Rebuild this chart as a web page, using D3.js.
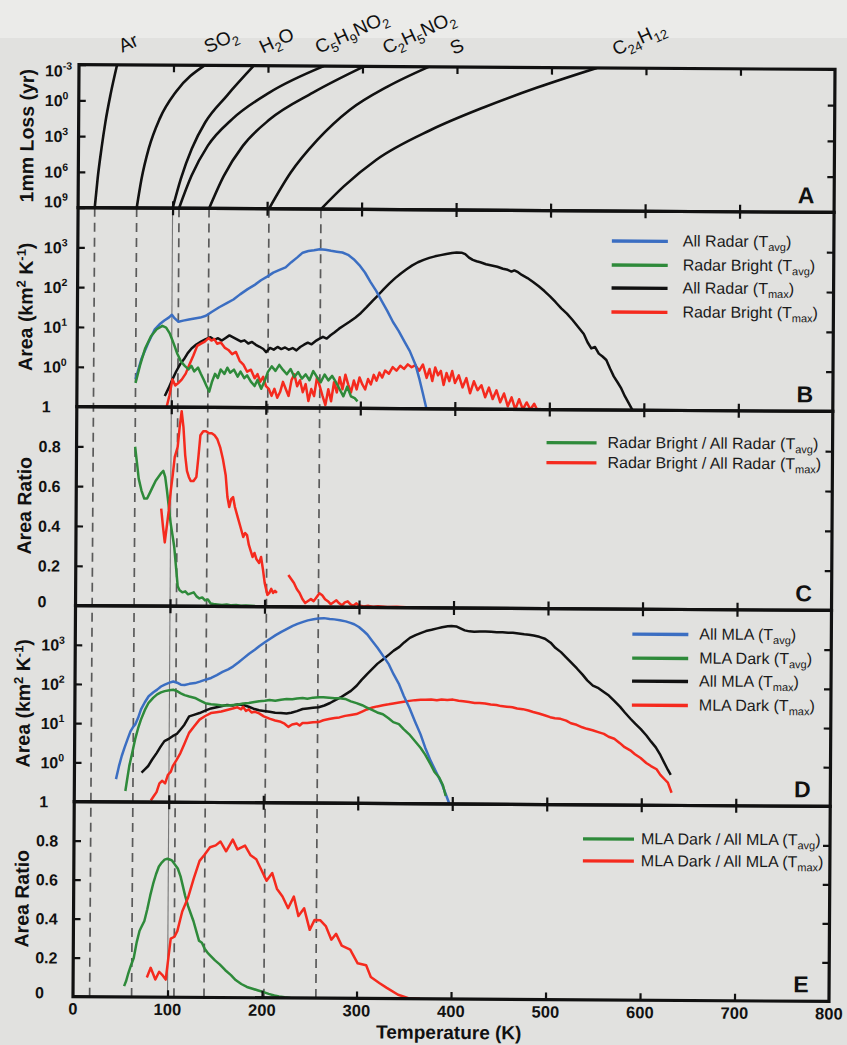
<!DOCTYPE html>
<html>
<head>
<meta charset="utf-8">
<script src="https://cdn.jsdelivr.net/npm/d3@7"></script>
<style>
  body { margin: 0; background: #e2e2e0; }
  svg { display: block; font-family: "Liberation Sans", Arial, Helvetica, sans-serif; }
</style>
</head>
<body>
<svg id="chart" width="847" height="1045"></svg>
<script>
// ---------- data ----------
var tempTicks = [0, 100, 200, 300, 400, 500, 600, 700, 800];

// panel A : time to lose 1 mm (yr) vs temperature (K)
var species = ["Ar", "SO2", "H2O", "C5H9NO2", "C2H5NO2", "S", "C24H12"];
var lossAr = [[17.6, 1e9], [20.5, 3.4e6], [24.4, 1e4], [28.4, 59], [33.5, 0.33], [40.3, 1e-3]];
var lossSO2 = [[62, 1e9], [67, 3.4e6], [74.4, 1e4], [85.8, 31], [102.8, 0.17], [132.9, 1e-3]];
var lossH2O = [[100, 1e9], [108.5, 3.4e6], [119.9, 1e4], [134, 59], [156.8, 0.33], [185, 1e-3]];
var lossC5H9NO2 = [[106.8, 1e9], [119.9, 1.8e6], [136.9, 5.4e3], [162.5, 31], [202, 0.17], [259, 1e-3]];
var lossC2H5NO2 = [[138.6, 1e9], [154, 1.8e6], [173.9, 5.4e3], [202.3, 31], [247.7, 0.17], [301.7, 1e-3]];
var lossS = [[202, 1e9], [224.6, 9.3e5], [253, 1.5e3], [287, 4.4], [326.6, 0.048], [370, 1e-3]];
var lossC24H12 = [[257, 1e9], [281, 1.2e7], [315, 7e4], [372, 210], [429, 2.3], [485, 0.048], [548, 1e-3]];
var lossTicks = [1e-3, 1, 1e3, 1e6, 1e9];
var lossTickExp = ["-3", "0", "3", "6", "9"];

// panels B and D : area per kelvin (km2 K-1)
var areaTicks = [0.1, 1, 10, 100, 1000];
var areaTickBase = ["1", "10", "10", "10", "10"];
var areaTickExp = ["", "0", "1", "2", "3"];

var radarAllAvg = [[62, 0.5], [68, 1.6], [75, 4], [82, 9], [87, 12], [92, 15], [97, 18], [100, 21], [103, 17],
  [107, 14], [112, 15], [118, 16], [124, 17], [130, 18], [136, 20], [142, 25], [150, 33], [158, 42], [165, 52],
  [172, 70], [180, 95], [187, 120], [194, 160], [201, 200], [207, 250], [213, 290], [220, 340], [226, 460],
  [232, 600], [238, 800], [244, 880], [250, 920], [256, 980], [262, 950], [268, 900], [274, 860], [280, 820],
  [286, 720], [292, 560], [298, 400], [304, 260], [310, 150], [316, 90], [322, 50], [328, 28], [334, 15],
  [340, 9], [346, 5], [352, 2.8], [358, 1.3], [362, 0.6], [366, 0.25], [370, 0.1]];
var radarBrightAvg = [[62, 0.4], [67, 1.2], [72, 3], [78, 6], [84, 9], [90, 11], [94, 10], [98, 7], [102, 4],
  [106, 2.2], [110, 1.4], [114, 1.1], [118, 0.9], [121, 1.1], [124, 0.8], [128, 1.0], [131, 0.7], [134, 0.5],
  [137, 0.35], [140, 0.25], [143, 0.45], [146, 0.7], [149, 0.55], [152, 0.9], [156, 0.7], [159, 1.0], [162, 0.75],
  [166, 0.9], [170, 0.6], [173, 0.8], [177, 0.55], [180, 0.65], [184, 0.45], [188, 0.35], [191, 0.5], [195, 0.3],
  [199, 0.5], [202, 0.8], [206, 1.1], [210, 0.85], [214, 1.2], [218, 0.9], [222, 0.7], [226, 0.95], [230, 0.6],
  [234, 0.8], [238, 0.55], [242, 0.7], [246, 0.5], [250, 0.85], [254, 0.6], [258, 0.45], [262, 0.7], [266, 0.5],
  [270, 0.65], [274, 0.45], [278, 0.3], [282, 0.2], [286, 0.35], [290, 0.2], [294, 0.18], [297, 0.15]];
var radarAllMax = [[93, 0.19], [97, 0.3], [101, 0.5], [105, 0.8], [109, 1.2], [113, 1.6], [117, 2.3], [121, 3],
  [126, 3.8], [131, 4.5], [136, 5.2], [141, 5.8], [145, 5.0], [149, 5.5], [153, 4.8], [157, 5.6], [161, 6.5],
  [165, 5.8], [169, 5.2], [173, 4.6], [177, 4.9], [181, 4.1], [185, 4.5], [189, 3.8], [193, 3.4], [197, 3.0],
  [200, 2.5], [204, 3.2], [208, 2.9], [212, 3.4], [216, 3.0], [220, 3.3], [224, 2.9], [228, 3.2], [232, 2.8],
  [236, 3.4], [240, 3.9], [244, 4.4], [248, 4.0], [252, 4.8], [256, 5.5], [260, 6.2], [264, 5.6], [268, 6.8],
  [272, 8], [277, 10], [282, 12], [288, 15], [294, 19], [300, 25], [306, 35], [312, 50], [318, 70], [324, 100],
  [330, 140], [336, 190], [342, 250], [348, 320], [354, 400], [360, 480], [366, 550], [372, 620], [378, 680],
  [384, 730], [390, 780], [396, 830], [401, 860], [406, 850], [410, 780], [414, 640], [418, 560], [422, 520],
  [426, 490], [432, 440], [438, 410], [444, 380], [450, 340], [455, 320], [459, 290], [462, 310], [466, 280],
  [470, 240], [476, 200], [482, 160], [488, 125], [494, 95], [500, 70], [506, 50], [512, 35], [518, 26],
  [524, 18], [530, 12], [536, 8], [540, 5], [544, 3.5], [548, 3.8], [552, 2.6], [556, 2.2], [560, 1.8],
  [564, 1.1], [568, 0.7], [572, 0.5], [576, 0.35], [580, 0.22], [584, 0.15], [588, 0.1]];
var radarBrightMax = [[95, 0.1], [98, 0.2], [101, 0.5], [104, 0.35], [107, 0.4], [111, 0.5], [115, 0.7], [119, 1.2],
  [123, 2], [127, 3.5], [131, 4], [135, 4.5], [139, 5.5], [142, 4.8], [145, 5.2], [148, 4], [152, 4.3], [156, 3.2],
  [160, 2.8], [164, 2.2], [168, 2.5], [172, 1.5], [176, 1.2], [180, 0.8], [184, 0.9], [188, 0.55], [191, 0.7],
  [194, 0.45], [197, 0.6], [200, 0.35], [203, 0.3], [206, 0.2], [209, 0.3], [212, 0.18], [215, 0.25], [218, 0.45],
  [221, 0.3], [224, 0.2], [227, 0.5], [230, 0.7], [233, 0.35], [236, 0.5], [239, 0.25], [242, 0.4], [245, 0.15],
  [248, 0.3], [251, 0.2], [254, 0.6], [257, 0.35], [260, 0.2], [263, 0.12], [266, 0.3], [269, 0.15], [272, 0.45],
  [275, 0.25], [278, 0.6], [281, 0.3], [284, 0.7], [287, 0.4], [290, 0.25], [293, 0.5], [296, 0.3], [299, 0.6],
  [302, 0.4], [305, 0.3], [308, 0.55], [311, 0.4], [314, 0.7], [317, 0.5], [320, 0.8], [323, 0.6], [326, 0.9],
  [330, 0.75], [334, 1.1], [338, 0.9], [342, 1.2], [346, 1.0], [350, 1.3], [354, 1.1], [358, 1.25], [362, 0.9],
  [366, 1.3], [370, 0.6], [373, 1.0], [376, 0.5], [379, 1.1], [382, 0.7], [385, 0.9], [388, 0.4], [391, 0.8],
  [394, 0.5], [397, 0.9], [400, 0.45], [404, 0.7], [408, 0.35], [412, 0.6], [416, 0.25], [420, 0.5], [424, 0.3],
  [428, 0.4], [432, 0.2], [436, 0.35], [440, 0.18], [444, 0.3], [448, 0.15], [452, 0.25], [456, 0.12], [460, 0.2],
  [464, 0.1], [468, 0.18], [472, 0.1], [476, 0.15], [480, 0.1], [484, 0.14], [487, 0.1]];

var mlaAllAvg = [[44, 0.38], [47, 0.8], [50, 1.5], [53, 2.5], [56, 4], [59, 6.3], [62, 8.3], [64, 9.5], [67, 14],
  [70, 23], [74, 35], [78, 50], [83, 63], [87, 74], [91, 89], [95, 100], [100, 112], [104, 120], [108, 112],
  [112, 100], [116, 98], [121, 105], [127, 110], [132, 120], [138, 135], [144, 150], [150, 178], [156, 214],
  [162, 250], [167, 295], [173, 380], [178, 480], [184, 630], [190, 800], [195, 1000], [201, 1260], [207, 1580],
  [212, 1900], [218, 2300], [224, 2750], [230, 3300], [235, 3700], [241, 4170], [246, 4570], [252, 4900],
  [257, 5100], [263, 5250], [269, 5000], [274, 4900], [280, 4680], [286, 4370], [291, 4000], [295, 3700],
  [300, 3160], [305, 2500], [309, 2040], [314, 1410], [320, 930], [326, 575], [332, 355], [337, 200], [343, 110],
  [348, 56], [354, 28], [360, 12.6], [366, 5.9], [371, 2.7], [377, 1.23], [383, 0.63], [389, 0.32], [393, 0.18],
  [397, 0.1]];
var mlaDarkAvg = [[54, 0.19], [56, 0.4], [58, 0.83], [61, 1.8], [64, 4], [67, 7.5], [70, 12.6], [74, 22], [78, 34],
  [83, 46], [87, 56], [91, 63], [95, 68], [100, 72], [104, 74], [108, 68], [112, 60], [116, 54], [121, 50],
  [127, 46], [132, 40], [138, 34], [144, 32], [150, 31], [156, 30], [162, 30], [168, 31], [173, 32], [178, 34],
  [184, 35], [190, 37], [195, 39], [201, 40], [206, 42], [212, 40], [218, 43], [224, 45], [230, 44], [235, 46],
  [241, 48], [246, 46], [252, 49], [258, 50], [263, 50], [269, 49], [275, 48], [280, 48], [286, 46], [292, 40],
  [298, 36], [304, 32], [309, 28], [315, 24], [320, 21], [326, 19], [332, 15], [337, 12], [343, 10.7], [348, 8],
  [354, 5.9], [360, 4], [366, 2.7], [371, 1.8], [377, 1.0], [381, 0.65], [386, 0.47], [390, 0.3], [393, 0.16]];
var mlaAllMax = [[71, 0.56], [75, 0.7], [78, 0.83], [82, 1.2], [87, 1.8], [91, 2.6], [95, 3.6], [100, 4.2],
  [104, 4.9], [108, 5.5], [112, 7.2], [116, 9.5], [121, 15.5], [126, 17], [132, 19], [138, 22], [144, 25],
  [150, 27], [156, 29], [161, 31], [167, 30], [172, 32], [178, 31], [184, 28], [189, 25], [195, 23], [200, 22],
  [206, 21], [212, 20], [218, 19.5], [224, 19], [229, 20], [235, 22], [241, 25], [246, 26], [252, 27], [258, 28],
  [264, 31], [270, 36], [275, 42], [281, 50], [287, 62], [292, 74], [298, 100], [303, 140], [309, 200], [315, 280],
  [320, 370], [326, 480], [332, 630], [337, 800], [343, 1000], [348, 1300], [354, 1700], [360, 2000], [366, 2300],
  [371, 2550], [377, 2750], [383, 3000], [388, 3200], [394, 3400], [398, 3450], [403, 3400], [408, 3000],
  [412, 2700], [417, 2550], [422, 2500], [428, 2550], [434, 2550], [440, 2500], [446, 2450], [452, 2450],
  [458, 2400], [463, 2400], [469, 2300], [475, 2200], [480, 2150], [485, 2050], [491, 1900], [497, 1700],
  [503, 1350], [508, 1000], [514, 780], [520, 560], [525, 420], [531, 300], [537, 210], [542, 150], [548, 110],
  [554, 95], [560, 75], [565, 62], [571, 45], [577, 32], [582, 23], [588, 16], [593, 12], [599, 8.7], [605, 6],
  [610, 4.2], [615, 3], [620, 1.9], [625, 1.1], [628, 0.8], [631, 0.6]];
var mlaDarkMax = [[81, 0.11], [84, 0.14], [87, 0.18], [90, 0.3], [93, 0.35], [96, 0.3], [99, 0.5], [102, 0.6],
  [104, 0.83], [108, 1.2], [112, 1.8], [116, 3], [121, 5.9], [126, 8.5], [132, 12.9], [138, 16], [144, 19],
  [150, 20], [155, 21], [161, 23], [167, 25], [172, 27], [176, 24], [178, 28], [181, 22], [184, 24], [187, 20],
  [190, 21], [195, 19], [200, 16], [206, 14], [212, 12.6], [218, 11.7], [222, 10.5], [226, 8.7], [230, 10],
  [235, 10.7], [238, 9.5], [241, 11], [246, 11], [252, 11.5], [258, 11.7], [263, 13], [269, 14], [275, 15],
  [280, 15.5], [286, 17], [292, 18], [298, 19], [304, 22], [309, 25], [315, 28], [320, 30], [326, 32], [332, 34],
  [337, 36], [343, 38], [348, 40], [354, 42], [360, 44], [366, 45], [371, 45], [377, 46], [383, 44], [388, 46],
  [394, 45], [400, 46], [406, 43], [411, 42], [417, 40], [423, 38], [428, 38], [434, 37], [440, 35], [446, 34],
  [451, 32], [457, 31], [463, 30], [468, 28], [474, 27], [480, 25], [485, 23], [491, 21], [497, 19], [503, 17],
  [508, 16], [514, 15.5], [520, 14], [525, 12], [531, 11], [537, 9.5], [542, 8.7], [548, 8], [554, 7.2],
  [560, 6.5], [565, 5.5], [571, 4.9], [577, 3.8], [582, 3], [588, 2.5], [593, 2], [599, 1.6], [605, 1.2],
  [610, 1.0], [616, 0.83], [620, 0.6], [625, 0.45], [628, 0.38], [632, 0.21]];

// panels C and E : area ratio
var ratioTicks = [0, 0.2, 0.4, 0.6, 0.8];
var ratioTickText = ["0", "0.2", "0.4", "0.6", "0.8"];

var ratioRadarAvg = [[62, 0.8], [64, 0.72], [66, 0.64], [69, 0.58], [72, 0.54], [75, 0.54], [78, 0.57], [81, 0.6],
  [84, 0.63], [87, 0.65], [90, 0.67], [92, 0.68], [94, 0.65], [96, 0.58], [98, 0.5], [100, 0.42], [102, 0.36],
  [104, 0.3], [106, 0.2], [108, 0.1], [110, 0.08], [113, 0.07], [116, 0.075], [119, 0.06], [122, 0.065],
  [125, 0.07], [128, 0.05], [131, 0.04], [134, 0.045], [137, 0.03], [140, 0.035], [143, 0.015], [146, 0.012],
  [150, 0.01], [155, 0.008], [160, 0.01], [165, 0.006], [170, 0.008], [175, 0.005], [180, 0.006], [190, 0.003],
  [200, 0.002], [210, 0.001], [220, 0.001], [230, 0]];
var ratioRadarMax = [[90, 0.49], [92, 0.4], [94, 0.32], [96, 0.4], [98, 0.48], [100, 0.58], [102, 0.66], [104, 0.75],
  [107, 0.8], [109, 0.9], [111, 0.98], [113, 0.9], [115, 0.76], [117, 0.68], [119, 0.65], [121, 0.63], [124, 0.63],
  [127, 0.65], [129, 0.75], [131, 0.86], [134, 0.88], [137, 0.88], [140, 0.87], [143, 0.87], [146, 0.86],
  [149, 0.84], [152, 0.8], [155, 0.74], [158, 0.66], [160, 0.55], [162, 0.5], [164, 0.54], [166, 0.55],
  [168, 0.5], [171, 0.45], [174, 0.4], [177, 0.35], [179, 0.37], [181, 0.36], [183, 0.31], [185, 0.28],
  [187, 0.25], [189, 0.27], [191, 0.24], [194, 0.22], [196, 0.25], [198, 0.19], [200, 0.12], [203, 0.06],
  [205, 0.07], [207, 0.09], [209, 0.07], [211, 0.08], [213, 0.07], [218, null],
  [225, 0.16], [228, 0.14], [231, 0.12], [234, 0.09], [237, 0.07], [240, 0.04], [243, 0.02], [246, 0.03],
  [249, 0.04], [252, 0.03], [255, 0.05], [258, 0.07], [261, 0.06], [264, 0.04], [267, 0.03], [270, 0.015],
  [273, 0.025], [276, 0.035], [279, 0.02], [282, 0.01], [285, 0.025], [288, 0.03], [291, 0.015], [294, 0.008],
  [297, 0.02], [300, 0.01], [305, 0.005], [310, 0.008], [315, 0.004], [320, 0.006], [330, 0.003], [340, 0.004],
  [350, 0.002], [360, 0.001], [370, 0]];

var ratioMlaAvg = [[54, 0.055], [56, 0.08], [58, 0.115], [61, 0.16], [64, 0.2], [67, 0.28], [70, 0.34], [72, 0.36],
  [75, 0.39], [78, 0.45], [81, 0.52], [84, 0.58], [87, 0.63], [90, 0.67], [93, 0.69], [96, 0.705], [99, 0.71],
  [102, 0.705], [104, 0.7], [107, 0.68], [110, 0.66], [113, 0.62], [115, 0.58], [118, 0.52], [121, 0.47],
  [124, 0.43], [127, 0.39], [130, 0.34], [133, 0.29], [136, 0.28], [139, 0.25], [142, 0.23], [144, 0.22],
  [150, 0.19], [155, 0.17], [161, 0.14], [167, 0.115], [172, 0.09], [178, 0.07], [184, 0.055], [190, 0.046],
  [196, 0.037], [201, 0.03], [207, 0.02], [213, 0.012], [218, 0.007], [224, 0.003], [230, 0]];
var ratioMlaMax = [[78, 0.1], [82, 0.15], [87, 0.09], [91, 0.13], [95, 0.11], [98, 0.09], [103, 0.3], [107, 0.31],
  [110, 0.34], [115, 0.44], [121, 0.51], [127, 0.61], [133, 0.7], [138, 0.73], [144, 0.77], [150, 0.78],
  [155, 0.8], [161, 0.75], [168, 0.81], [173, 0.76], [181, 0.78], [187, 0.73], [193, 0.71], [198, 0.66],
  [204, 0.6], [210, 0.64], [215, 0.56], [221, 0.52], [227, 0.46], [233, 0.52], [238, 0.42], [244, 0.46],
  [250, 0.35], [255, 0.4], [261, 0.4], [267, 0.37], [273, 0.3], [278, 0.33], [284, 0.27], [293, 0.25],
  [301, 0.18], [310, 0.17], [315, 0.11], [324, 0.08], [332, 0.055], [344, 0.02], [355, 0.003], [367, 0]];

var seriesNamesB = ["All Radar", "Radar Bright", "All Radar", "Radar Bright"];
var seriesNamesC = ["Radar Bright / All Radar", "Radar Bright / All Radar"];
var seriesNamesD = ["All MLA", "MLA Dark", "All MLA", "MLA Dark"];
var seriesNamesE = ["MLA Dark / All MLA", "MLA Dark / All MLA"];
var seriesSubsB = ["avg", "avg", "max", "max"];
var seriesSubsC = ["avg", "max"];

// ---------- layout ----------
var W = 847, H = 1045;
var L = 76, R = 832;
var BLUE = "#3b6ec2", GREEN = "#2e8a3a", BLACK = "#111", RED = "#f52a1e";

var svg = d3.select("#chart");
svg.append("rect").attr("width", W).attr("height", H).attr("fill", "#e1e1df");
svg.append("rect").attr("width", W).attr("height", 38).attr("fill", "#ebebe9");

// the scan is turned a little
var root = svg.append("g").attr("transform", "rotate(0.37,454,533)");

var x = d3.scaleLinear().domain([0, 800]).range([L, R]);

var panels = [
  { id: "A", top: 67, bot: 210, y: d3.scaleLog().domain([1e-3, 1e9]).range([67, 210]) },
  { id: "B", top: 210, bot: 409, y: d3.scaleLog().domain([0.1, 1e4]).range([409, 210]) },
  { id: "C", top: 409, bot: 608, y: d3.scaleLinear().domain([0, 1]).range([608, 409]) },
  { id: "D", top: 608, bot: 804, y: d3.scaleLog().domain([0.1, 1e4]).range([804, 608]) },
  { id: "E", top: 804, bot: 999, y: d3.scaleLinear().domain([0, 1]).range([999, 804]) }
];

var defs = root.append("defs");
panels.forEach(function (p) {
  defs.append("clipPath").attr("id", "clip" + p.id)
    .append("rect").attr("x", L).attr("y", p.top).attr("width", R - L).attr("height", p.bot - p.top);
});

function subText(sel, parts, size, small, shift) {
  var cur = false;
  parts.forEach(function (pt) {
    var dy = pt[1] === cur ? 0 : (pt[1] ? shift : -shift);
    sel.append("tspan").attr("dy", dy).attr("font-size", pt[1] ? small : size).text(pt[0]);
    cur = pt[1];
  });
}

// ---------- reference lines (panels B-E) ----------
var lossCurves = [lossAr, lossSO2, lossH2O, lossC5H9NO2, lossC2H5NO2, lossS, lossC24H12];
var refG = root.append("g");
lossCurves.forEach(function (c, i) {
  var water = species[i] === "H2O";
  refG.append("line")
    .attr("x1", x(c[0][0])).attr("x2", x(c[0][0]))
    .attr("y1", panels[1].top).attr("y2", panels[4].bot)
    .attr("stroke", water ? "#777" : "#5a5a5a")
    .attr("stroke-width", water ? 1.1 : 1.7)
    .attr("stroke-dasharray", water ? null : "9,6");
});

// ---------- panel A ----------
var pA = panels[0];
var lineA = d3.line().x(function (d) { return x(d[0]); }).y(function (d) { return pA.y(d[1]); })
  .curve(d3.curveMonotoneX);
var gA = root.append("g").attr("clip-path", "url(#clipA)");
lossCurves.forEach(function (c) {
  gA.append("path").attr("d", lineA(c)).attr("fill", "none").attr("stroke", BLACK).attr("stroke-width", 2.6);
});

var labelDx = [5, 3, 9, -5, 22, 25, 19];
species.forEach(function (s, i) {
  var c = lossCurves[i];
  var lx = x(c[c.length - 1][0]) + labelDx[i], ly = 55;
  var t = root.append("text").attr("x", lx).attr("y", ly)
    .attr("transform", "rotate(-25," + lx + "," + ly + ")")
    .attr("font-size", 19).attr("fill", "#111");
  var parts = s.match(/[A-Za-z]+|\d+/g).map(function (p) { return [p, /\d/.test(p)]; });
  subText(t, parts, 19, 13, 5);
});

// ---------- data curves ----------
function drawSeries(p, list) {
  var g = root.append("g").attr("clip-path", "url(#clip" + p.id + ")");
  var ln = d3.line()
    .defined(function (d) { return d[1] !== null; })
    .x(function (d) { return x(d[0]); })
    .y(function (d) { return p.y(Math.max(d[1], p.y.domain()[0] * 0.5 || d[1])); });
  list.forEach(function (s) {
    g.append("path").attr("d", ln(s.data)).attr("fill", "none")
      .attr("stroke", s.color).attr("stroke-width", 2.5).attr("stroke-linejoin", "round");
  });
}
drawSeries(panels[1], [
  { data: radarAllMax, color: BLACK }, { data: radarBrightMax, color: RED },
  { data: radarAllAvg, color: BLUE }, { data: radarBrightAvg, color: GREEN }]);
drawSeries(panels[2], [{ data: ratioRadarAvg, color: GREEN }, { data: ratioRadarMax, color: RED }]);
drawSeries(panels[3], [
  { data: mlaAllMax, color: BLACK }, { data: mlaDarkMax, color: RED },
  { data: mlaAllAvg, color: BLUE }, { data: mlaDarkAvg, color: GREEN }]);
drawSeries(panels[4], [{ data: ratioMlaAvg, color: GREEN }, { data: ratioMlaMax, color: RED }]);

// ---------- frames and ticks ----------
var innerX = tempTicks.slice(1, -1);
panels.forEach(function (p) {
  var yTicks = p.id === "A" ? lossTicks : (p.id === "C" || p.id === "E") ? ratioTicks.slice(1) : areaTicks.slice(1);
  var axes = [
    [d3.axisTop(x).tickValues(innerX), 0, p.top],
    [d3.axisBottom(x).tickValues(innerX), 0, p.bot],
    [d3.axisLeft(p.y).tickValues(yTicks), L, 0],
    [d3.axisRight(p.y).tickValues(yTicks), R, 0]
  ];
  axes.forEach(function (a) {
    var g = root.append("g").attr("transform", "translate(" + a[1] + "," + a[2] + ")")
      .call(a[0].tickSize(-7).tickSizeOuter(0).tickFormat(""));
    g.select(".domain").remove();
    g.selectAll(".tick line").attr("stroke", "#111").attr("stroke-width", 2.2);
  });
  root.append("rect").attr("x", L).attr("y", p.top).attr("width", R - L).attr("height", p.bot - p.top)
    .attr("fill", "none").attr("stroke", "#111").attr("stroke-width", 3.2);

  root.append("text").attr("x", R - 28).attr("y", p.bot - 9).attr("text-anchor", "middle")
    .attr("font-size", 23).attr("font-weight", "bold").attr("fill", "#111").text(p.id);
});

// y tick labels
var tickFont = 16;
lossTicks.forEach(function (v, i) {
  var yy = pA.y(v) + 6;
  if (i === 0) yy += 6;
  if (i === lossTicks.length - 1) yy -= 6;
  var t = root.append("text").attr("x", 42).attr("y", yy).attr("font-size", tickFont)
    .attr("font-weight", "bold").attr("fill", "#111");
  subText(t, [["10", false], [lossTickExp[i], true]], tickFont, 10.5, -7);
});
[panels[1], panels[3]].forEach(function (p) {
  areaTicks.forEach(function (v, i) {
    var t = root.append("text").attr("x", i === 0 ? 41 : 42).attr("y", p.y(v) + 6).attr("font-size", tickFont)
      .attr("font-weight", "bold").attr("fill", "#111");
    if (areaTickExp[i]) subText(t, [[areaTickBase[i], false], [areaTickExp[i], true]], tickFont, 10.5, -7);
    else t.text(areaTickBase[i]);
  });
});
[panels[2], panels[4]].forEach(function (p) {
  ratioTicks.forEach(function (v, i) {
    root.append("text").attr("x", 38).attr("y", p.y(v) + (i === 0 ? 2 : 6)).attr("font-size", tickFont)
      .attr("font-weight", "bold").attr("fill", "#111").text(ratioTickText[i]);
  });
});

// x tick labels
tempTicks.forEach(function (v) {
  root.append("text").attr("x", x(v)).attr("y", 1017).attr("text-anchor", "middle")
    .attr("font-size", 16.5).attr("font-weight", "bold").attr("fill", "#111").text(String(v));
});
root.append("text").attr("x", 452).attr("y", 1039).attr("text-anchor", "middle")
  .attr("font-size", 19).attr("font-weight", "bold").attr("fill", "#111").text("Temperature (K)");

// y axis titles
function yTitle(p, parts) {
  var cy = (p.top + p.bot) / 2, cx = 31;
  var t = root.append("text").attr("transform", "translate(" + cx + "," + cy + ") rotate(-90)")
    .attr("text-anchor", "middle").attr("font-size", 19.5).attr("font-weight", "bold").attr("fill", "#111");
  subText(t, parts, 19.5, 13, -7);
}
yTitle(panels[0], [["1mm Loss (yr)", false]]);
yTitle(panels[1], [["Area (km", false], ["2", true], [" K", false], ["-1", true], [")", false]]);
yTitle(panels[2], [["Area Ratio", false]]);
yTitle(panels[3], [["Area (km", false], ["2", true], [" K", false], ["-1", true], [")", false]]);
yTitle(panels[4], [["Area Ratio", false]]);

// ---------- legends ----------
function legend(names, subs, colors, x0, x1, tx, ys) {
  names.forEach(function (n, i) {
    root.append("line").attr("x1", x0).attr("x2", x1).attr("y1", ys[i]).attr("y2", ys[i])
      .attr("stroke", colors[i]).attr("stroke-width", 3.4);
    var t = root.append("text").attr("x", tx).attr("y", ys[i] + 5).attr("font-size", 16).attr("fill", "#1a1a1a");
    subText(t, [[n + " (T", false], [subs[i], true], [")", false]], 16, 11, 4);
  });
}
legend(seriesNamesB, seriesSubsB, [BLUE, GREEN, BLACK, RED], 610, 666, 681, [240, 264, 287, 311]);
legend(seriesNamesC, seriesSubsC, [GREEN, RED], 546, 596, 607, [442, 462]);
legend(seriesNamesD, seriesSubsB, [BLUE, GREEN, BLACK, RED], 633, 689, 700, [633, 657, 680, 704]);
legend(seriesNamesE, seriesSubsC, [GREEN, RED], 585, 636, 643, [838, 860]);
</script>
</body>
</html>
